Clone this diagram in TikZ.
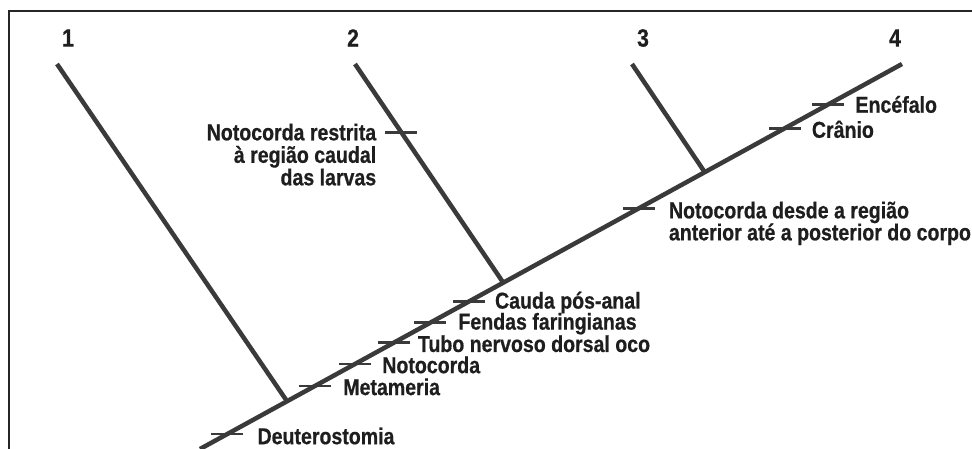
\documentclass[tikz,border=0pt]{standalone}
\usepackage{fontspec}
\setmainfont{Liberation Sans}[FakeStretch=0.85, BoldFeatures={FakeBold=0.6}]
\usepackage{tikz}
\usetikzlibrary{calc}

\definecolor{linhacinza}{HTML}{3A3A3A}
\definecolor{textocinza}{HTML}{1E1E1E}
\tikzset{
  ramo/.style={line width=4.5pt, color=linhacinza},
  marca/.style={line width=2.5pt, color=linhacinza},
  rotulo/.style={anchor=west, inner sep=0pt, text=textocinza,
    font=\bfseries\fontsize{23}{22}\selectfont},
  numero/.style={inner sep=0pt, text=textocinza,
    font=\bfseries\fontsize{25}{25}\selectfont}
}

\begin{document}
\begin{tikzpicture}[x=1pt, y=-1pt]
        \useasboundingbox (0,0) rectangle (972,449);
        \clip (0,0) rectangle (972,449);
        %%Frame
        \draw[line width=2.5pt, color=black!85] (9,452) -- (9,11) -- (975,11);
        %%Main line and branches
        \coordinate (raiz) at (200,449);
        \coordinate (ponta4) at (902,64);
        \coordinate (ponta1) at (57,64);
        \coordinate (ponta2) at (355,64);
        \coordinate (ponta3) at (632,64);
        \coordinate (no1) at ($(raiz)!0.124!(ponta4)$);
        \coordinate (no2) at ($(raiz)!0.432!(ponta4)$);
        \coordinate (no3) at ($(raiz)!0.719!(ponta4)$);
        \draw[ramo] (raiz) to (ponta4);
        \draw[ramo] (ponta1) to (no1);
        \draw[ramo] (ponta2) to (no2);
        \draw[ramo] (ponta3) to (no3);
        %%Numbers
        \node[numero] (n1) at (68,38) {1};
        \node[numero] (n2) at (353,38) {2};
        \node[numero] (n3) at (643,38) {3};
        \node[numero] (n4) at (895,38) {4};
        %%Characters on the main line
        \coordinate (m1) at ($(raiz)!0.039!(ponta4)$);
        \draw[marca] ($(m1)+(-16,0)$) to ($(m1)+(16,0)$);
        \node[rotulo] (deutero) at ($(m1)+(30,2)$) {Deuterostomia};
        \coordinate (m2) at ($(raiz)!0.164!(ponta4)$);
        \draw[marca] ($(m2)+(-16,0)$) to ($(m2)+(16,0)$);
        \node[rotulo] (metam) at ($(m2)+(28,1)$) {Metameria};
        \coordinate (m3) at ($(raiz)!0.221!(ponta4)$);
        \draw[marca] ($(m3)+(-16,0)$) to ($(m3)+(16,0)$);
        \node[rotulo] (noto) at ($(m3)+(27,1)$) {Notocorda};
        \coordinate (m4) at ($(raiz)!0.276!(ponta4)$);
        \draw[marca] ($(m4)+(-16,0)$) to ($(m4)+(16,0)$);
        \node[rotulo] (tubo) at ($(m4)+(24,1)$) {Tubo nervoso dorsal oco};
        \coordinate (m5) at ($(raiz)!0.328!(ponta4)$);
        \draw[marca] ($(m5)+(-16,0)$) to ($(m5)+(16,0)$);
        \node[rotulo] (fendas) at ($(m5)+(28,1)$) {Fendas faringianas};
        \coordinate (m6) at ($(raiz)!0.383!(ponta4)$);
        \draw[marca] ($(m6)+(-16,0)$) to ($(m6)+(16,0)$);
        \node[rotulo] (cauda) at ($(m6)+(26,1)$) {Cauda pós-anal};
        \coordinate (m7) at ($(raiz)!0.625!(ponta4)$);
        \draw[marca] ($(m7)+(-16,0)$) to ($(m7)+(16,0)$);
        \node[rotulo, align=left] (desde) at ($(m7)+(30,15)$)
          {Notocorda desde a região\\anterior até a posterior do corpo};
        \coordinate (m8) at ($(raiz)!0.833!(ponta4)$);
        \draw[marca] ($(m8)+(-16,0)$) to ($(m8)+(16,0)$);
        \node[rotulo] (cranio) at ($(m8)+(27,1)$) {Crânio};
        \coordinate (m9) at ($(raiz)!0.895!(ponta4)$);
        \draw[marca] ($(m9)+(-16,0)$) to ($(m9)+(16,0)$);
        \node[rotulo] (encef) at ($(m9)+(27,0)$) {Encéfalo};
        %%Character on branch 2
        \coordinate (m10) at ($(ponta2)!0.313!(no2)$);
        \draw[marca] ($(m10)+(-16,0)$) to ($(m10)+(16,0)$);
        \node[rotulo, anchor=north east, align=right,
          font=\bfseries\fontsize{23}{22.5}\selectfont] (restrita) at ($(m10)+(-25,-9)$)
          {Notocorda restrita\\à região caudal\\das larvas};
\end{tikzpicture}
\end{document}
